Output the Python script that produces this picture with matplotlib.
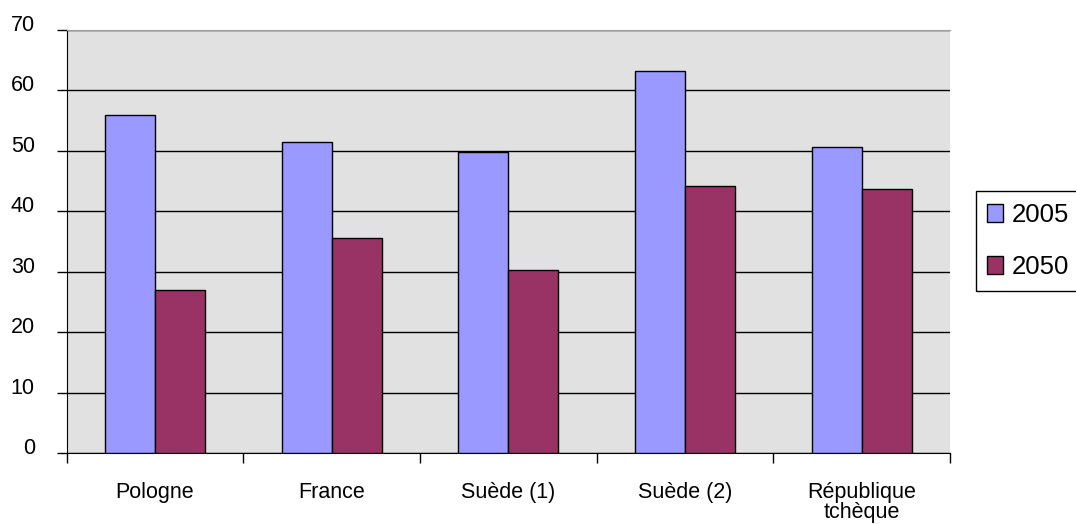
import numpy as np
import matplotlib.pyplot as plt
import matplotlib.transforms as mtransforms
from matplotlib.ticker import FixedLocator, MultipleLocator

plt.rcParams['font.family'] = ['Liberation Sans', 'DejaVu Sans']

# données
pays = ['Pologne', 'France', 'Suède (1)', 'Suède (2)', 'République\ntchèque']
annees = ['2005', '2050']
v2005 = [55.9, 51.4, 49.7, 63.2, 50.6]
v2050 = [27.0, 35.5, 30.2, 44.1, 43.6]
couleurs = ['#9999ff', '#993366']

fig = plt.figure(figsize=(10.76, 5.24), dpi=100)
ax = fig.add_axes([0.062, 0.1355, 0.821, 0.8078])
ax.set_facecolor('#e1e1e1')

x = np.arange(len(pays))
w = 0.283
ax.bar(x - w / 2, v2005, w, color=couleurs[0], edgecolor='black', linewidth=1,
       label=annees[0], zorder=3)
ax.bar(x + w / 2, v2050, w, color=couleurs[1], edgecolor='black', linewidth=1,
       label=annees[1], zorder=3)

ax.set_xlim(-0.5, len(pays) - 0.5)
ax.set_ylim(0, 70)
ax.yaxis.set_major_locator(MultipleLocator(10))
ax.grid(axis='y', color='black', linewidth=1, zorder=1)
ax.set_axisbelow(True)

# libellés au centre, petites graduations entre les groupes
ax.set_xticks(x)
ax.set_xticklabels(pays, fontsize=15.5, linespacing=0.9)
ax.xaxis.set_minor_locator(FixedLocator(np.arange(len(pays) + 1) - 0.5))
ax.tick_params(axis='x', which='major', length=0, pad=21)
ax.tick_params(axis='x', which='minor', length=7, width=1, direction='out')
ax.tick_params(axis='y', length=7, width=1, pad=16, labelsize=15.5)

# valeurs de l'axe y légèrement au-dessus des graduations
decal = mtransforms.ScaledTranslation(0, 5 / 72, fig.dpi_scale_trans)
for lab in ax.get_yticklabels():
    lab.set_transform(lab.get_transform() + decal)

ax.spines['top'].set_color('#a0a0a0')
ax.spines['right'].set_visible(False)
ax.spines['left'].set_color('black')
ax.spines['bottom'].set_color('black')

leg = ax.legend(loc='center left', bbox_to_anchor=(975.7 / 1076, 1 - 241 / 524),
                bbox_transform=fig.transFigure, borderaxespad=0, fontsize=18.5,
                handlelength=0.62, handleheight=0.68, handletextpad=0.35,
                labelspacing=1.1, borderpad=0.45, fancybox=False, framealpha=1)
leg.get_frame().set_edgecolor('black')
leg.get_frame().set_linewidth(1)

fig.savefig('out.png', dpi=100)
